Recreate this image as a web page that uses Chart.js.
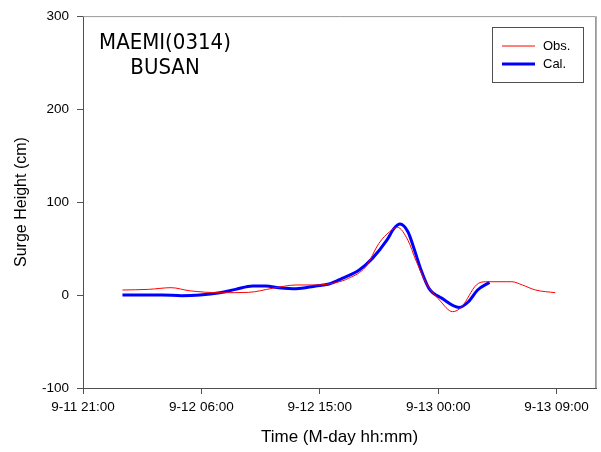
<!DOCTYPE html>
<html>
<head>
<meta charset="utf-8">
<script src="https://cdn.jsdelivr.net/npm/chart.js@4"></script>
<style>
  html, body { margin: 0; padding: 0; background: #ffffff; }
  #wrap { width: 601px; height: 452px; }
</style>
</head>
<body>
<div id="wrap"><canvas id="surge-chart"></canvas></div>
<script>
// hours counted from 9-11 21:00
const tickHours = [0, 9, 18, 27, 36]
const tickLabels = ['9-11 21:00', '9-12 06:00', '9-12 15:00', '9-13 00:00', '9-13 09:00']

const obsHours = [3.0, 5.0, 6.7, 8.1, 10.4, 12.6, 14.4, 16.2, 17.7, 19.2, 20.2, 21.5, 22.5, 23.3, 23.9, 24.7, 25.3, 26.1, 27.1, 28.1, 28.8, 29.9, 30.6, 32.6, 33.4, 34.4, 35.9]
const obsValues = [5.4, 6.1, 7.9, 4.6, 2.5, 2.9, 7.2, 10.8, 10.8, 13.3, 18, 30.5, 55.6, 68, 72.8, 59, 37.6, 12.5, -5.4, -17.9, -12.5, 10.8, 14.3, 14.3, 10.8, 5.4, 2.5]

const calHours = [3.0, 6.0, 7.5, 8.9, 10.4, 11.6, 12.9, 13.9, 14.9, 16.2, 17.7, 18.7, 19.7, 21.0, 22.0, 23.1, 23.65, 24.1, 24.7, 25.2, 25.7, 26.3, 27.3, 28.6, 29.3, 30.0, 30.9]
const calValues = [0, 0, -0.7, 0, 2.5, 6.1, 9.7, 9.7, 7.9, 6.8, 9.7, 11.8, 17.9, 26.9, 39.4, 59, 71.7, 76.3, 68, 48.4, 26.9, 7.2, -3.6, -13.3, -7.2, 5.4, 13.6]

const stormName = 'MAEMI(0314)'
const stationName = 'BUSAN'

const axisFont = 'Liberation Sans, Arial, sans-serif'

// frame, storm label and legend box drawn on top of the chart area
const decorPlugin = {
  id: 'decor',
  afterDraw (chart) {
    const ctx = chart.ctx
    const a = chart.chartArea
    ctx.save()
    ctx.strokeStyle = '#9a9a9a'
    ctx.lineWidth = 1
    ctx.beginPath()
    ctx.moveTo(a.left, a.top + 0.5)
    ctx.lineTo(a.right - 0.5, a.top + 0.5)
    ctx.lineTo(a.right - 0.5, a.bottom)
    ctx.stroke()
    ctx.strokeStyle = '#b0b0b0'
    ctx.beginPath()
    ctx.moveTo(a.right + 0.5, a.top)
    ctx.lineTo(a.right + 0.5, a.bottom)
    ctx.stroke()

    ctx.fillStyle = '#000000'
    ctx.font = '22px "DejaVu Sans Condensed", "DejaVu Sans", sans-serif'
    ctx.textAlign = 'center'
    ctx.textBaseline = 'alphabetic'
    ctx.fillText(stormName, 165, 49)
    ctx.fillText(stationName, 165, 74)

    // legend box
    ctx.strokeStyle = '#505050'
    ctx.lineWidth = 1
    ctx.strokeRect(492.5, 27.5, 91, 55)
    ctx.font = '13px ' + axisFont
    ctx.textAlign = 'left'
    ctx.textBaseline = 'middle'
    const rows = [46, 64]
    chart.data.datasets.forEach((ds, i) => {
      ctx.strokeStyle = ds.borderColor
      ctx.lineWidth = ds.borderWidth
      ctx.beginPath()
      ctx.moveTo(502, rows[i])
      ctx.lineTo(535, rows[i])
      ctx.stroke()
      ctx.fillStyle = '#000000'
      ctx.fillText(ds.label, 543, rows[i])
    })
    ctx.restore()
  }
}

const data = {
  datasets: [
    {
      label: 'Obs.',
      data: obsHours.map((h, i) => ({ x: h, y: obsValues[i] })),
      borderColor: '#ff0000',
      borderWidth: 1,
      pointRadius: 0,
      cubicInterpolationMode: 'monotone'
    },
    {
      label: 'Cal.',
      data: calHours.map((h, i) => ({ x: h, y: calValues[i] })),
      borderColor: '#0000ff',
      borderWidth: 3,
      pointRadius: 0,
      cubicInterpolationMode: 'monotone'
    }
  ]
}

const options = {
  responsive: true,
  maintainAspectRatio: false,
  animation: false,
  layout: { padding: { top: 16, right: 5, left: 0, bottom: 0 } },
  plugins: {
    legend: { display: false },
    tooltip: { enabled: false }
  },
  scales: {
    x: {
      type: 'linear',
      min: 0,
      max: 39,
      afterBuildTicks (scale) {
        scale.ticks = tickHours.map(v => ({ value: v }))
      },
      afterFit (scale) { scale.height = 64 },
      grid: { drawOnChartArea: false, drawTicks: true, tickLength: 6, color: '#505050' },
      border: { color: '#505050', width: 1 },
      ticks: {
        color: '#000000',
        padding: 5,
        maxRotation: 0,
        autoSkip: false,
        font: { family: axisFont, size: 13.5 },
        callback: (value) => tickLabels[tickHours.indexOf(value)]
      },
      title: {
        display: true,
        text: 'Time (M-day hh:mm)',
        color: '#000000',
        font: { family: axisFont, size: 17 },
        padding: { top: 13 }
      }
    },
    y: {
      min: -100,
      max: 300,
      afterFit (scale) { scale.width = 83 },
      grid: { drawOnChartArea: false, drawTicks: true, tickLength: 6, color: '#505050' },
      border: { color: '#505050', width: 1 },
      ticks: {
        stepSize: 100,
        color: '#000000',
        padding: 8,
        font: { family: axisFont, size: 13.5 }
      },
      title: {
        display: true,
        text: 'Surge Height (cm)',
        color: '#000000',
        font: { family: axisFont, size: 16 },
        padding: { top: 12, bottom: 0 }
      }
    }
  }
}

new Chart(document.getElementById('surge-chart').getContext('2d'), { type: 'line', data, options, plugins: [decorPlugin] })
</script>
</body>
</html>
